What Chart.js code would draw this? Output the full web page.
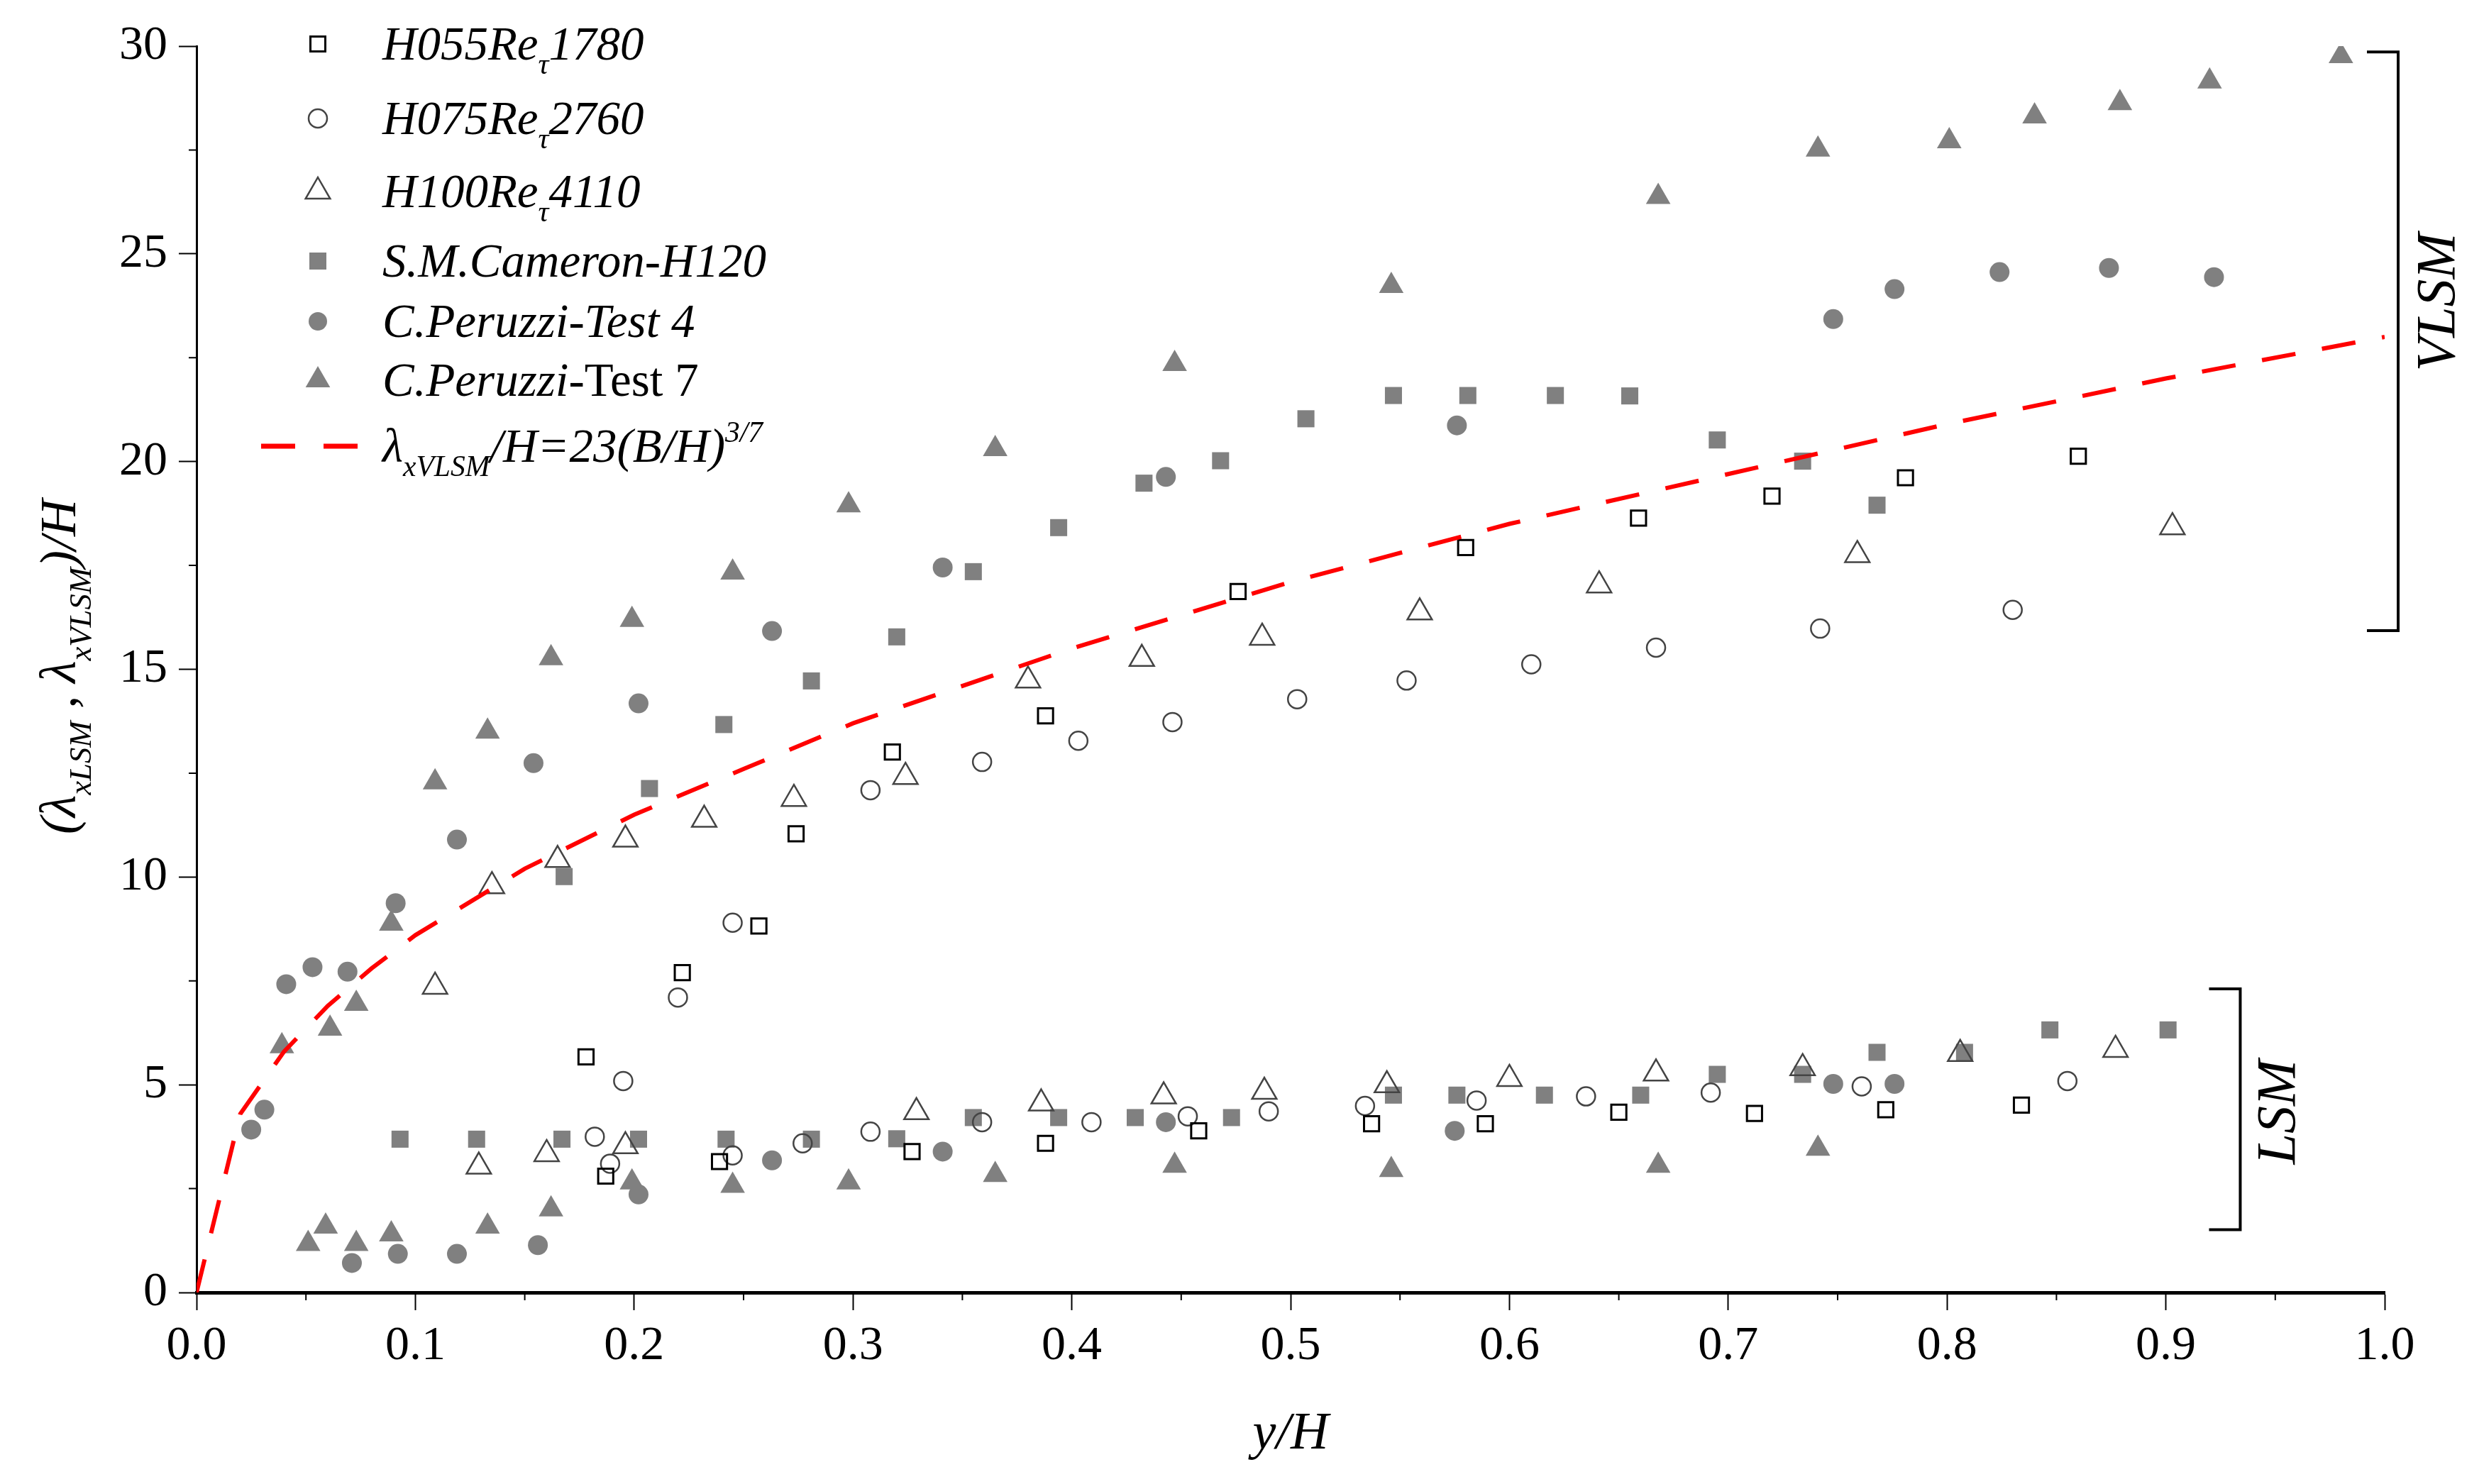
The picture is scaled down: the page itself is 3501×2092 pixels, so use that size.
<!DOCTYPE html>
<html>
<head>
<meta charset="utf-8">
<script src="https://cdn.jsdelivr.net/npm/chart.js@4/dist/chart.umd.min.js"></script>
<style>
  html, body { margin: 0; padding: 0; background: #fff; }
  canvas { display: block; }
</style>
</head>
<body>
<canvas id="c" width="3501" height="2092"></canvas>
<script>
// values, [y/H, lambda/H]
const h055 = [[0.187,2.80],[0.178,5.67],[0.222,7.70],[0.239,3.15],[0.257,8.82],[0.274,11.04],[0.318,13.01],[0.327,3.39],[0.388,13.88],[0.388,3.59],[0.458,3.89],[0.476,16.87],[0.537,4.06],[0.580,17.93],[0.589,4.06],[0.650,4.34],[0.659,18.64],[0.712,4.31],[0.720,19.17],[0.772,4.40],[0.781,19.61],[0.834,4.51],[0.860,20.13]];
const h075 = [[0.182,3.75],[0.189,3.10],[0.195,5.09],[0.220,7.10],[0.245,8.90],[0.245,3.30],[0.277,3.59],[0.308,3.87],[0.308,12.09],[0.359,4.10],[0.359,12.77],[0.403,13.28],[0.409,4.10],[0.446,13.73],[0.453,4.24],[0.490,4.36],[0.503,14.28],[0.534,4.49],[0.553,14.73],[0.585,4.62],[0.610,15.12],[0.635,4.72],[0.667,15.52],[0.692,4.81],[0.742,15.98],[0.761,4.96],[0.830,16.43],[0.855,5.09]];
const h100 = [[0.109,7.36],[0.129,3.03],[0.135,9.78],[0.160,3.33],[0.165,10.41],[0.196,3.52],[0.196,10.90],[0.232,11.38],[0.273,11.88],[0.324,12.41],[0.329,4.34],[0.380,14.73],[0.386,4.55],[0.432,15.25],[0.442,4.72],[0.487,15.76],[0.488,4.83],[0.544,4.99],[0.559,16.37],[0.600,5.14],[0.641,17.02],[0.667,5.27],[0.734,5.40],[0.759,17.75],[0.806,5.74],[0.877,5.84],[0.903,18.42]];
const cameron = [[0.093,3.69],[0.128,3.69],[0.167,3.69],[0.202,3.69],[0.242,3.69],[0.281,3.69],[0.320,3.70],[0.355,4.21],[0.394,4.21],[0.429,4.21],[0.473,4.21],[0.547,4.75],[0.576,4.75],[0.616,4.75],[0.660,4.75],[0.695,5.25],[0.734,5.25],[0.768,5.78],[0.808,5.78],[0.847,6.32],[0.901,6.32],
  [0.168,10.01],[0.207,12.13],[0.241,13.67],[0.281,14.72],[0.320,15.78],[0.355,17.35],[0.394,18.41],[0.433,19.48],[0.468,20.02],[0.507,21.03],[0.547,21.59],[0.581,21.59],[0.621,21.59],[0.655,21.58],[0.695,20.52],[0.734,20.01],[0.768,18.95]];
const test4 = [[0.025,3.92],[0.031,4.40],[0.041,7.42],[0.053,7.83],[0.069,7.72],[0.091,9.37],[0.119,10.90],[0.154,12.74],[0.202,14.18],[0.263,15.92],[0.341,17.45],[0.443,19.63],[0.576,20.87],[0.748,23.43],[0.776,24.15],[0.824,24.56],[0.874,24.66],[0.922,24.44],
  [0.071,0.71],[0.092,0.93],[0.119,0.93],[0.156,1.14],[0.202,2.36],[0.263,3.18],[0.341,3.39],[0.443,4.10],[0.575,3.89],[0.748,5.02],[0.776,5.02]];
const test7 = [[0.039,5.93],[0.061,6.35],[0.073,6.95],[0.089,8.88],[0.109,12.28],[0.133,13.50],[0.162,15.27],[0.199,16.19],[0.245,17.33],[0.298,18.95],[0.365,20.30],[0.447,22.35],[0.546,24.23],[0.668,26.37],[0.741,27.51],[0.801,27.71],[0.840,28.31],[0.879,28.63],[0.920,29.15],[0.980,29.76],
  [0.051,1.17],[0.059,1.59],[0.073,1.17],[0.089,1.40],[0.133,1.59],[0.162,2.00],[0.199,2.65],[0.245,2.57],[0.298,2.65],[0.365,2.83],[0.447,3.05],[0.546,2.95],[0.668,3.05],[0.741,3.46]];
// dashed fit curve
const fitX = [0, 0.02, 0.04, 0.06, 0.08, 0.10, 0.15, 0.20, 0.25, 0.30, 0.40, 0.50, 0.60, 0.70, 0.80, 0.90, 1.00];
const fitY = [0, 4.3, 5.8, 6.9, 7.8, 8.6, 10.2, 11.5, 12.6, 13.7, 15.5, 17.1, 18.5, 19.7, 20.9, 22.0, 23.0];

const xMinor = [0.05, 0.15, 0.25, 0.35, 0.45, 0.55, 0.65, 0.75, 0.85, 0.95];
const yMinor = [2.5, 7.5, 12.5, 17.5, 22.5, 27.5];
const vlsmRange = [15.93, 29.86];
const lsmRange = [1.51, 7.31];

const FONT = '"Liberation Serif", "Times New Roman", serif';
const GREY = '#808080';
const pts = a => a.map(p => ({ x: p[0], y: p[1] }));

// legend entries, rich text parts: s = sub/sup, u = upright
const legendItems = [
  { style: 'rect', fill: false, color: '#000', parts: [{ t: 'H055Re' }, { t: 'τ', s: 'sub' }, { t: '1780' }] },
  { style: 'circle', fill: false, color: '#444', parts: [{ t: 'H075Re' }, { t: 'τ', s: 'sub' }, { t: '2760' }] },
  { style: 'triangle', fill: false, color: '#444', parts: [{ t: 'H100Re' }, { t: 'τ', s: 'sub' }, { t: '4110' }] },
  { style: 'rect', fill: true, color: GREY, parts: [{ t: 'S.M.Cameron-H120' }] },
  { style: 'circle', fill: true, color: GREY, parts: [{ t: 'C.Peruzzi-Test 4' }] },
  { style: 'triangle', fill: true, color: GREY, parts: [{ t: 'C.Peruzzi' }, { t: '-Test 7', u: true }] },
  { style: 'line', parts: [{ t: 'λ' }, { t: 'xVLSM', s: 'sub' }, { t: '/H=23(B/H)' }, { t: '3/7', s: 'sup' }] }
];
const legendRowY = [62, 167, 270, 368, 453, 536, 629];

function setFont(ctx, p, size) {
  const sz = p.s ? size * 0.62 : size;
  ctx.font = (p.u ? '' : 'italic ') + sz + 'px ' + FONT;
}
function richWidth(ctx, parts, size) {
  let w = 0;
  parts.forEach(p => { setFont(ctx, p, size); w += ctx.measureText(p.t).width; });
  return w;
}
function drawRich(ctx, parts, x, y, size) {
  parts.forEach(p => {
    setFont(ctx, p, size);
    let dy = 0;
    if (p.s === 'sub') dy = size * 0.3;
    if (p.s === 'sup') dy = -size * 0.42;
    ctx.fillText(p.t, x, y + dy);
    x += ctx.measureText(p.t).width;
  });
}
function marker(ctx, style, x, y, fill, color) {
  ctx.beginPath();
  if (style === 'rect') {
    const h = fill ? 12 : 10.5;
    ctx.rect(x - h, y - h, 2 * h, 2 * h);
  } else if (style === 'circle') {
    ctx.arc(x, y, 13, 0, Math.PI * 2);
  } else {
    const r = 20;
    ctx.moveTo(x, y - r);
    ctx.lineTo(x + r * 0.866, y + r / 2);
    ctx.lineTo(x - r * 0.866, y + r / 2);
    ctx.closePath();
  }
  if (fill) { ctx.fillStyle = color; ctx.fill(); }
  else { ctx.strokeStyle = color; ctx.lineWidth = style === 'rect' ? 3 : 2.5; ctx.stroke(); }
}

const overlay = {
  id: 'overlay',
  afterDraw(chart) {
    const ctx = chart.ctx, a = chart.chartArea;
    const xs = chart.scales.x, ys = chart.scales.y;
    ctx.save();
    ctx.strokeStyle = '#000';
    ctx.lineWidth = 2;
    ctx.beginPath();
    xMinor.forEach(v => { const px = xs.getPixelForValue(v); ctx.moveTo(px, a.bottom); ctx.lineTo(px, a.bottom + 11); });
    yMinor.forEach(v => { const py = ys.getPixelForValue(v); ctx.moveTo(a.left - 11, py); ctx.lineTo(a.left, py); });
    ctx.stroke();

    // brackets
    ctx.lineWidth = 4;
    const bracket = (px, r) => {
      const t = ys.getPixelForValue(r[1]), b = ys.getPixelForValue(r[0]);
      ctx.beginPath();
      ctx.moveTo(px - 44, t); ctx.lineTo(px, t); ctx.lineTo(px, b); ctx.lineTo(px - 44, b);
      ctx.stroke();
      return (t + b) / 2;
    };
    const vx = a.right + 19, lx = xs.getPixelForValue(0.934);
    const vMid = bracket(vx, vlsmRange);
    const lMid = bracket(lx, lsmRange);
    ctx.fillStyle = '#000';
    ctx.textAlign = 'center';
    ctx.textBaseline = 'middle';
    ctx.font = 'italic 78px ' + FONT;
    [[vx + 58, vMid - 55, 'VLSM'], [lx + 56, lMid + 4, 'LSM']].forEach(d => {
      ctx.save(); ctx.translate(d[0], d[1]); ctx.rotate(-Math.PI / 2); ctx.fillText(d[2], 0, 0); ctx.restore();
    });

    // axis titles
    ctx.textAlign = 'left';
    ctx.textBaseline = 'alphabetic';
    const xt = [{ t: 'y/H' }];
    const xw = richWidth(ctx, xt, 74);
    drawRich(ctx, xt, (a.left + a.right) / 2 - xw / 2, 2042, 74);
    const yt = [{ t: '(λ' }, { t: 'xLSM', s: 'sub' }, { t: ' , λ' }, { t: 'xVLSM', s: 'sub' }, { t: ')/H' }];
    const yw = richWidth(ctx, yt, 72);
    ctx.save();
    ctx.translate(106, 940);
    ctx.rotate(-Math.PI / 2);
    drawRich(ctx, yt, -yw / 2, 0, 72);
    ctx.restore();

    // legend
    legendItems.forEach((it, i) => {
      const y = legendRowY[i];
      if (it.style === 'line') {
        ctx.strokeStyle = '#ff0000';
        ctx.lineWidth = 7;
        ctx.beginPath();
        ctx.moveTo(368, y); ctx.lineTo(416, y);
        ctx.moveTo(456, y); ctx.lineTo(504, y);
        ctx.stroke();
      } else {
        marker(ctx, it.style, 448, y, it.fill, it.color);
      }
      ctx.fillStyle = '#000';
      drawRich(ctx, it.parts, 539, y + 22, 67);
    });
    ctx.restore();
  }
};

const tickFont = { family: FONT, size: 68 };

new Chart(document.getElementById('c'), {
  type: 'scatter',
  data: {
    datasets: [
      { label: 'fit', data: fitX.map((x, i) => ({ x: x, y: fitY[i] })), showLine: true, borderColor: '#ff0000', borderWidth: 6, borderDash: [48, 38], pointRadius: 0, fill: false, tension: 0 },
      { label: 'H055Reτ1780', data: pts(h055), pointStyle: 'rect', pointRadius: 15, backgroundColor: 'rgba(0,0,0,0)', borderColor: '#000', borderWidth: 3 },
      { label: 'H075Reτ2760', data: pts(h075), pointStyle: 'circle', pointRadius: 13, backgroundColor: 'rgba(0,0,0,0)', borderColor: '#444', borderWidth: 2.5 },
      { label: 'H100Reτ4110', data: pts(h100), pointStyle: 'triangle', pointRadius: 20, backgroundColor: 'rgba(0,0,0,0)', borderColor: '#444', borderWidth: 2.5 },
      { label: 'S.M.Cameron-H120', data: pts(cameron), pointStyle: 'rect', pointRadius: 17, backgroundColor: GREY, borderWidth: 0 },
      { label: 'C.Peruzzi-Test 4', data: pts(test4), pointStyle: 'circle', pointRadius: 14, backgroundColor: GREY, borderWidth: 0 },
      { label: 'C.Peruzzi-Test 7', data: pts(test7), pointStyle: 'triangle', pointRadius: 20, backgroundColor: GREY, borderWidth: 0 }
    ]
  },
  options: {
    responsive: false,
    animation: false,
    events: [],
    layout: { padding: { left: 0, top: 65, right: 140, bottom: 0 } },
    plugins: { legend: { display: false }, tooltip: { enabled: false } },
    scales: {
      x: {
        type: 'linear', min: 0, max: 1,
        afterFit: s => { s.height = 270; },
        ticks: { stepSize: 0.1, font: tickFont, color: '#000', padding: 10, maxRotation: 0, callback: v => v.toFixed(1) },
        grid: { drawOnChartArea: false, tickLength: 25, tickWidth: 2, tickColor: '#000' },
        border: { color: '#000', width: 5 }
      },
      y: {
        type: 'linear', min: 0, max: 30,
        afterFit: s => { s.width = 277; },
        ticks: { stepSize: 5, font: tickFont, color: '#000', padding: 16 },
        grid: { drawOnChartArea: false, tickLength: 25, tickWidth: 2, tickColor: '#000' },
        border: { color: '#000', width: 3 }
      }
    }
  },
  plugins: [overlay]
});
</script>
</body>
</html>
